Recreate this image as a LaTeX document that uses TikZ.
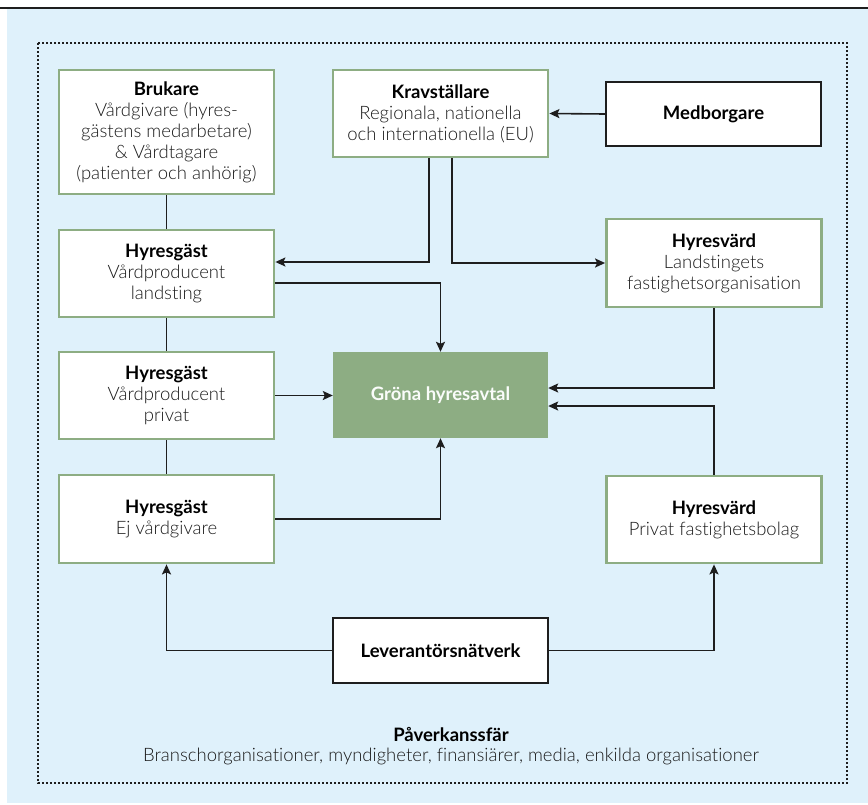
\documentclass[tikz,border=0pt]{standalone}
\usepackage{fontspec}
\setmainfont{Lato}[Ligatures={NoCommon}]
\newfontfamily\lightfont{Lato Light}[Ligatures={NoCommon}]
\usetikzlibrary{arrows.meta}

\definecolor{bgblue}{HTML}{DFF1FB}
\definecolor{boxgreen}{HTML}{8DAD83}
\definecolor{ink}{HTML}{1E1E1E}
\definecolor{bodytext}{HTML}{1A1A1A}

% headline of a box: bold, black
\newcommand{\hd}[1]{{\normalfont\bfseries\color{black}#1}}

\tikzset{
  base/.style={rectangle, fill=white, minimum width=215pt, align=center,
    inner sep=0pt, text=bodytext,
    font=\lightfont\fontsize{18.5}{21}\selectfont},
  greenbox/.style={base, draw=boxgreen, line width=2.8pt},
  plainbox/.style={base, draw=ink, line width=1.6pt},
  link/.style={draw=ink, line width=1.6pt},
  arr/.style={link, -{Stealth[length=10pt,width=9pt,inset=2pt]}},
}

\begin{document}
\begin{tikzpicture}[x=1pt, y=-1pt]
  \useasboundingbox (0,0) rectangle (868,804);
  % panel
  \fill[bgblue] (7,9) rectangle (868,803);
  \draw[ink, line width=2pt] (0,8) -- (868,8);
  % sphere of influence
  \draw[ink, line width=1.3pt, dash pattern=on 2pt off 2pt] (38,43) rectangle (847,783);

  % boxes
  \node[greenbox, minimum height=124pt] (bruk) at (166.5,132)
    {\hd{Brukare}\\Vårdgivare (hyres-\\gästens medarbetare)\\\& Vårdtagare\\(patienter och anhörig)};
  \node[greenbox, minimum height=87pt] (krav) at (440.5,113.5)
    {\hd{Kravställare}\\Regionala, nationella\\och internationella (EU)};
  \node[plainbox, minimum height=64pt] (medb) at (713.5,114)
    {\hd{Medborgare}};
  \node[greenbox, minimum height=87pt] (h1) at (166.5,273.5)
    {\hd{Hyresgäst}\\Vårdproducent\\landsting};
  \node[greenbox, minimum height=87pt] (h2) at (166.5,395.5)
    {\hd{Hyresgäst}\\Vårdproducent\\privat};
  \node[greenbox, minimum height=88pt] (h3) at (166.5,519)
    {\hd{Hyresgäst}\\Ej vårdgivare};
  \node[base, fill=boxgreen, minimum height=86pt, minimum width=215pt] (gr) at (440.5,395)
    {{\normalfont\bfseries\color{white!96!boxgreen}Gröna hyresavtal}};
  \node[greenbox, minimum height=88pt] (hv1) at (714,263)
    {\hd{Hyresvärd}\\Landstingets\\fastighetsorganisation};
  \node[greenbox, minimum height=87pt] (hv2) at (714,519.5)
    {\hd{Hyresvärd}\\Privat fastighetsbolag};
  \node[plainbox, minimum height=65pt] (lev) at (440.5,650.5)
    {\hd{Leverantörsnätverk}};

  \node[align=center, inner sep=0pt, text=bodytext,
        font=\lightfont\fontsize{18.5}{20}\selectfont] (pav) at (451,746)
    {\hd{Påverkanssfär}\\Branschorganisationer, myndigheter, finansiärer, media, enkilda organisationer};

  % plain links between tenant boxes
  \draw[link] (bruk.south) -- (h1.north);
  \draw[link] (h1.south) -- (h2.north);
  \draw[link] (h2.south) -- (h3.north);

  % arrows
  \draw[arr] (medb.west) -- (krav.east);
  \draw[arr] ([xshift=-11.5pt]krav.south) |- ([yshift=11.5pt]h1.east);
  \draw[arr] ([xshift=11.5pt]krav.south) |- (hv1.west);
  \draw[arr] ([yshift=-9.5pt]h1.east) -| (gr.north);
  \draw[arr] (h2.east) -- (h2.east -| gr.west);
  \draw[arr] (h3.east) -| (gr.south);
  \draw[arr] (hv1.south) |- ([yshift=7pt]gr.east);
  \draw[arr] (hv2.north) |- ([yshift=-11pt]gr.east);
  \draw[arr] (lev.west) -| (h3.south);
  \draw[arr] (lev.east) -| (hv2.south);
\end{tikzpicture}
\end{document}
